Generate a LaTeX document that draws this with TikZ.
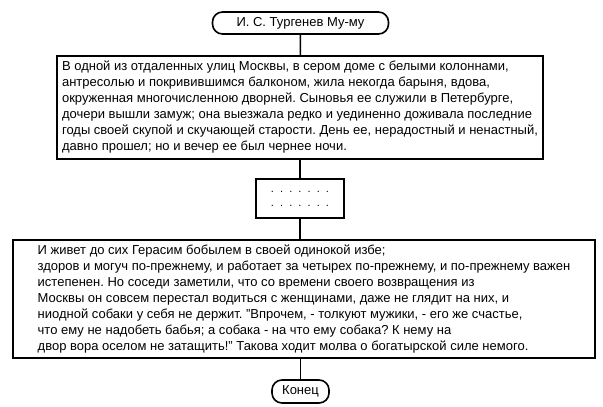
\documentclass[tikz,border=0pt]{standalone}
\usepackage{fontspec}
\setmainfont{Liberation Sans}
\usetikzlibrary{positioning}

\begin{document}
\frenchspacing
\begin{tikzpicture}[x=1pt,y=-1pt,line width=1.6pt,font=\fontsize{13}{16}\selectfont]
\tikzstyle{b}=[draw,rectangle,inner sep=0pt,align=left]
\tikzstyle{t}=[draw,rectangle,rounded corners=10pt,inner sep=0pt,minimum height=22pt]
\useasboundingbox (0,0) rectangle (603,407);
\node[t,minimum width=176pt] (beg) at (300.5,23) {И. С. Тургенев Му-му};
\node[b,minimum width=486pt,minimum height=103pt] (p1) at (300,107.5) {В одной из отдаленных улиц Москвы, в сером доме с белыми колоннами,\\ антресолью и покривившимся балконом, жила некогда барыня, вдова,\\ окруженная многочисленною дворней. Сыновья ее служили в Петербурге,\\ дочери вышли замуж; она выезжала редко и уединенно доживала последние\\ годы своей скупой и скучающей старости. День ее, нерадостный и ненастный,\\ давно прошел; но и вечер ее был чернее ночи.};
\node[b,align=center,minimum width=88pt,minimum height=39pt,font=\fontsize{11}{14}\selectfont] (dots) at (300,198.5) {.\ \ .\ \ .\ \ .\ \ .\ \ .\ \ .\\ .\ \ .\ \ .\ \ .\ \ .\ \ .\ \ .};
\node[b,minimum width=582pt,minimum height=118pt] (p2) at (304,299) {И живет до сих Герасим бобылем в своей одинокой избе;\\ здоров и могуч по-прежнему, и работает за четырех по-прежнему, и по-прежнему важен\\ истепенен. Но соседи заметили, что со времени своего возвращения из\\ Москвы он совсем перестал водиться с женщинами, даже не глядит на них, и\\ ниодной собаки у себя не держит. "Впрочем, - толкуют мужики, - его же счастье,\\ что ему не надобеть бабья; а собака - на что ему собака? К нему на\\ двор вора оселом не затащить!" Такова ходит молва о богатырской силе немого.};
\node[t,minimum width=57pt,minimum height=23pt] (fin) at (300.5,391.5) {Конец};
\draw (beg) -- (p1);
\draw (p1) -- (dots);
\draw (dots) -- (dots |- p2.north);
\draw (fin |- p2.south) -- (fin);
\end{tikzpicture}
\end{document}
